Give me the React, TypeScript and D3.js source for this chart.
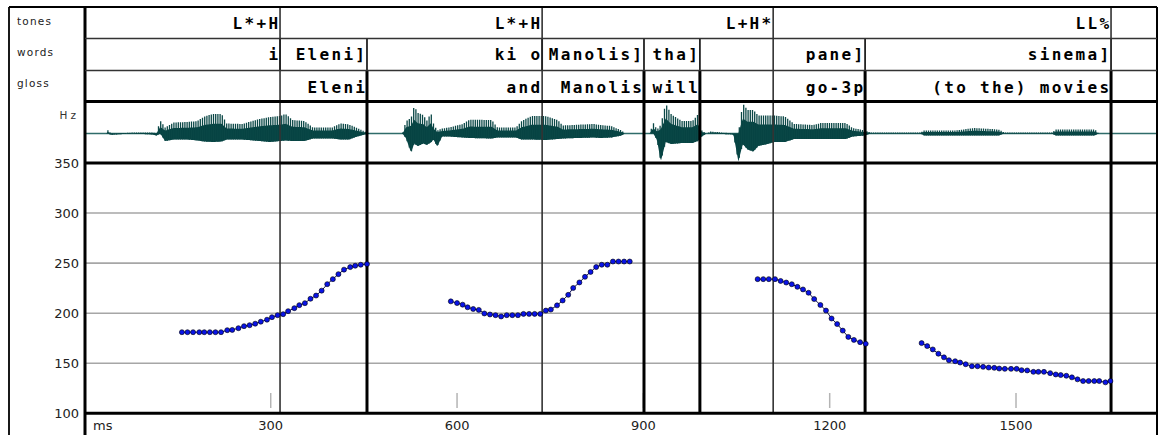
import React from "react";
import * as d3 from "d3";

// ---------- data ----------
const tierNames = ["tones", "words", "gloss"];
const toneLabels = ["L*+H", "L*+H", "L+H*", "LL%"];
const toneTimes = [315, 737, 1109, 1653];
const wordLabels = ["i", "Eleni]", "ki o", "Manolis]", "tha]", "pane]", "sinema]"];
const wordEnds = [315, 455, 737, 901, 991, 1257, 1653];
const glossLabels = ["Eleni", "and", "Manolis", "will", "go-3p", "(to the) movies"];
const glossEnds = [455, 737, 901, 991, 1257, 1653];

const hzTicks = [350, 300, 250, 200, 150, 100];
const msTicks = [300, 600, 900, 1200, 1500];

const seg1Ms = [157, 166, 175, 185, 193, 202, 211, 220, 230, 238, 248, 257, 266, 275, 284, 294, 302, 311, 320, 328, 338, 346, 355, 364, 373, 382, 391, 400, 409, 418, 428, 436, 445, 455];
const seg1Hz = [181, 181, 181, 181, 181, 181, 181, 181, 183, 183.3, 185, 187, 188, 189.5, 191.5, 193.5, 196, 198, 199, 202, 205, 208, 210, 214.4, 217.6, 222.5, 229, 234, 239, 243.5, 246, 247.4, 248.4, 249];

const seg2Ms = [590, 600, 609, 617, 626, 635, 644, 653, 662, 671, 680, 689, 698, 707, 716, 725, 734, 743, 751, 761, 770, 779, 787, 797, 806, 815, 824, 833, 842, 851, 860, 869, 878];
const seg2Hz = [211.8, 210.1, 208.5, 205.9, 204.2, 203.3, 199.7, 198.7, 198, 196.7, 198, 198, 198, 199.3, 199.3, 199.3, 199.3, 202.6, 203.6, 207.8, 212.7, 218.3, 225.2, 230.7, 236.3, 241.2, 246.1, 248.4, 248.4, 251.6, 251.6, 251.6, 251.6];

const seg3Ms = [1084, 1093, 1102, 1112, 1121, 1130, 1139, 1148, 1157, 1166, 1175, 1185, 1194, 1203, 1212, 1221, 1230, 1239, 1249, 1258];
const seg3Hz = [234, 234, 234, 234, 232.2, 230.6, 228.9, 226.3, 223.7, 220.4, 214.1, 208.2, 202.6, 194.7, 189.1, 182.6, 176.3, 173.3, 171, 169.4];

const seg4Ms = [1348, 1357, 1366, 1375, 1384, 1392, 1402, 1410, 1419, 1429, 1438, 1447, 1456, 1465, 1473, 1482, 1492, 1501, 1509, 1518, 1528, 1536, 1545, 1555, 1564, 1572, 1581, 1590, 1599, 1608, 1617, 1626, 1634, 1644, 1652];
const seg4Hz = [170.1, 167.1, 163.8, 159.5, 155.9, 153, 152, 150.7, 149, 147, 147, 146.4, 145.7, 145.4, 144.7, 144.4, 144.4, 144.4, 143.1, 142.8, 141.4, 141.4, 141.4, 140.1, 138.8, 138.2, 137.5, 135.9, 133.9, 132.2, 132.2, 132.2, 132.2, 130.9, 132.2];

// waveform envelope: time (ms), upper and lower amplitude
const waveMs = [0, 35, 38, 43, 49, 77, 110, 116, 122, 130, 144, 166, 182, 193, 207, 221, 229, 254, 282, 299, 315, 324, 335, 354, 368, 399, 412, 426, 437, 451, 460, 512, 518, 526, 531, 537, 546, 551, 558, 562, 568, 576, 587, 609, 620, 656, 665, 695, 704, 720, 742, 762, 770, 820, 831, 848, 865, 870, 910, 916, 922, 928, 936, 945, 962, 979, 988, 994, 1002, 1008, 1045, 1053, 1060, 1068, 1077, 1085, 1100, 1111, 1128, 1143, 1174, 1186, 1226, 1237, 1257, 1266, 1346, 1352, 1403, 1432, 1472, 1481, 1558, 1564, 1627, 1633, 1727];
const waveTop = [0, 0, 3.4, 0, 0, 1, 1, 0, 13, 6, 11, 11.5, 12.5, 17, 19.5, 19.5, 10, 9.5, 14.5, 16.5, 17.5, 19.5, 13.5, 12.5, 6, 6, 10, 9, 6, 2, 0, 0, 12.5, 15.5, 27.5, 20.5, 18.5, 12.5, 20.5, 10, 3, 5, 6, 9.5, 13.8, 13.5, 6, 6, 12.5, 17.5, 17.5, 13.5, 8, 9.5, 8.5, 7.5, 3, 0, 0, 10.5, 4, 8.5, 30, 19, 12.5, 12.5, 19, 3, 0, 2, 0, 0, 30, 23.5, 23.5, 18, 18, 18, 17, 9.5, 8.5, 10.5, 10.5, 5.5, 3, 1, 1, 3, 3, 5.5, 4, 1, 1, 4, 4, 0, 0];
const waveBot = [0, 0, 0, 1.4, 1, 0, 1, 2, 0, 7.5, 6, 6, 7, 8, 8.5, 8, 6, 6, 7.5, 8.5, 7.5, 7, 7.5, 7.5, 5, 5, 6, 6, 3.5, 1, 0, 0, 5, 19, 10, 12.5, 10, 11.5, 9, 6, 13, 3, 3, 4, 4.5, 5, 4, 4, 6, 6, 6.5, 5.5, 5, 4, 4.5, 4, 2, 0, 0, 0, 6.5, 28, 8.5, 10.5, 9.5, 9.5, 7.5, 3, 0, 0, 1, 28, 10.5, 16, 18, 12.5, 10.5, 8.5, 8.5, 5.5, 5.5, 5.5, 5.5, 3, 2, 0, 0, 2, 2, 2, 2, 0, 0, 2, 2, 0, 0];

const segments = [
  { ms: seg1Ms, hz: seg1Hz },
  { ms: seg2Ms, hz: seg2Hz },
  { ms: seg3Ms, hz: seg3Hz },
  { ms: seg4Ms, hz: seg4Hz },
];

// ---------- layout ----------
const W = 1158;
const H = 435;
const frameL = 9;
const colR = 85;
const rightX = 1157;
const topY = 7;
const row1 = 38.5;
const row2 = 70.5;
const waveTopY = 101.5;
const plotTopY = 163;
const plotBotY = 413.3;

const x = d3.scaleLinear().domain([0, 1727]).range([84.4, rightX]);
const y = d3.scaleLinear().domain([100, 350]).range([plotBotY, plotTopY]);
const amp = d3.scaleLinear().domain([-30, 30]).range([163.5, 103.5]);
const topEnv = d3.scaleLinear().domain(waveMs).range(waveTop).clamp(true);
const botEnv = d3.scaleLinear().domain(waveMs).range(waveBot).clamp(true);

const tierFont = "'DejaVu Sans Mono', monospace";
const smallFont = "'DejaVu Sans', sans-serif";

export default function App() {
  const line = d3
    .line<[number, number]>()
    .x((d) => x(d[0]))
    .y((d) => y(d[1]));

  const area = d3
    .area<number>()
    .x((t) => x(t))
    .y0((t) => amp(-botEnv(t)))
    .y1((t) => amp(topEnv(t) * 0.5));

  const fine = d3.range(0, 1727, 1.5);
  const cols = d3.range(x(0) + 1.5, rightX - 1, 2.2);

  const thickEnds = wordEnds.filter((_, i) => wordLabels[i].endsWith("]"));
  const ls = 2.3;

  return (
    <svg
      width={W}
      height={H}
      style={{ position: "absolute", left: 0, top: 0, background: "#fff" }}
    >
      <rect x={0} y={0} width={W} height={H} fill="#fff" />
      {/* gridlines */}
      {hzTicks
        .filter((h) => h !== 350 && h !== 100)
        .map((h) => (
          <line key={"g" + h} x1={colR} x2={rightX} y1={y(h)} y2={y(h)} stroke="#a6a6a6" strokeWidth={1.6} />
        ))}
      {/* x ticks */}
      {msTicks.map((t) => (
        <line key={"t" + t} x1={x(t)} x2={x(t)} y1={393} y2={408} stroke="#b4b4b4" strokeWidth={1.5} />
      ))}

      {/* waveform */}
      <defs>
        <clipPath id="waveClip">
          <rect x={colR} y={waveTopY + 1.5} width={rightX - colR} height={plotTopY - waveTopY - 3} />
        </clipPath>
      </defs>
      <g clipPath="url(#waveClip)">
        <line x1={colR} x2={rightX} y1={amp(0)} y2={amp(0)} stroke="#2f6c6a" strokeWidth={1.3} />
        <path d={area(fine) || ""} fill="#064343" />
        {cols.map((cx, i) => {
          const t = x.invert(cx);
          const tp = topEnv(t);
          const bt = botEnv(t);
          if (tp + bt < 0.6) return null;
          return (
            <line key={"w" + i} x1={cx} x2={cx} y1={amp(-bt)} y2={amp(tp)} stroke="#0a4746" strokeWidth={1.3} />
          );
        })}
      </g>

      {/* thin tone lines */}
      {toneTimes.map((t, i) => (
        <line
          key={"tl" + i}
          x1={x(t)}
          x2={x(t)}
          y1={topY}
          y2={i === toneTimes.length - 1 ? row1 : plotBotY}
          stroke="#333"
          strokeWidth={1.6}
        />
      ))}
      {/* word boundaries in words row */}
      {wordEnds.map((t, i) => (
        <line key={"wl" + i} x1={x(t)} x2={x(t)} y1={row1} y2={row2} stroke="#222" strokeWidth={1.8} />
      ))}
      {/* thick boundaries */}
      {thickEnds.map((t, i) => (
        <line key={"th" + i} x1={x(t)} x2={x(t)} y1={row2} y2={plotBotY} stroke="#000" strokeWidth={3} />
      ))}

      {/* frame */}
      <line x1={frameL} x2={rightX} y1={topY} y2={topY} stroke="#000" strokeWidth={2} />
      <line x1={frameL} x2={frameL} y1={topY} y2={H} stroke="#000" strokeWidth={1.8} />
      <line x1={colR} x2={colR} y1={topY} y2={H} stroke="#000" strokeWidth={3} />
      <line x1={rightX} x2={rightX} y1={topY} y2={H} stroke="#000" strokeWidth={2} />
      <line x1={colR} x2={rightX} y1={row1} y2={row1} stroke="#333" strokeWidth={1.6} />
      <line x1={colR} x2={rightX} y1={row2} y2={row2} stroke="#333" strokeWidth={1.6} />
      <line x1={colR} x2={rightX} y1={waveTopY} y2={waveTopY} stroke="#000" strokeWidth={3} />
      <line x1={colR} x2={rightX} y1={plotTopY} y2={plotTopY} stroke="#000" strokeWidth={3} />
      <line x1={colR} x2={rightX} y1={plotBotY} y2={plotBotY} stroke="#000" strokeWidth={3} />

      {/* pitch */}
      {segments.map((s, si) => {
        const pts = s.ms.map((m, i) => [m, s.hz[i]] as [number, number]);
        return (
          <g key={"s" + si}>
            <path d={line(pts) || ""} fill="none" stroke="#10105a" strokeWidth={1} />
            {pts.map((p, i) => (
              <circle key={i} cx={x(p[0])} cy={y(p[1])} r={2.5} fill="#0a14e6" stroke="#000" strokeWidth={0.6} />
            ))}
          </g>
        );
      })}

      {/* tier names */}
      {tierNames.map((n, i) => (
        <text key={n} x={17} y={[25, 56, 87][i]} fontFamily={smallFont} fontSize={10.5} letterSpacing={1.2} fill="#222">
          {n}
        </text>
      ))}
      <text x={79} y={119} textAnchor="end" fontFamily={smallFont} fontSize={10.5} letterSpacing={3} fill="#333">
        Hz
      </text>

      {/* tier labels */}
      {toneLabels.map((l, i) => (
        <text key={"tn" + i} x={x(toneTimes[i]) + ls - 2} y={28.5} textAnchor="end" fontFamily={tierFont} fontWeight="bold" fontSize={16} letterSpacing={ls} fill="#000">
          {l}
        </text>
      ))}
      {wordLabels.map((l, i) => (
        <text key={"wd" + i} x={x(wordEnds[i]) + ls - 2} y={60} textAnchor="end" fontFamily={tierFont} fontWeight="bold" fontSize={16} letterSpacing={ls} fill="#000">
          {l}
        </text>
      ))}
      {glossLabels.map((l, i) => (
        <text key={"gl" + i} x={x(glossEnds[i]) + ls - 2} y={92.5} textAnchor="end" fontFamily={tierFont} fontWeight="bold" fontSize={16} letterSpacing={ls} fill="#000">
          {l}
        </text>
      ))}

      {/* y labels */}
      {hzTicks.map((h) => (
        <text key={"yl" + h} x={79} y={y(h)} dy="0.36em" textAnchor="end" fontFamily={smallFont} fontSize={13} fill="#222">
          {h}
        </text>
      ))}
      {/* x labels */}
      <text x={93} y={430} fontFamily={smallFont} fontSize={13} fill="#222">
        ms
      </text>
      {msTicks.map((t) => (
        <text key={"xl" + t} x={x(t)} y={430} textAnchor="middle" fontFamily={smallFont} fontSize={13} fill="#222">
          {t}
        </text>
      ))}
    </svg>
  );
}
